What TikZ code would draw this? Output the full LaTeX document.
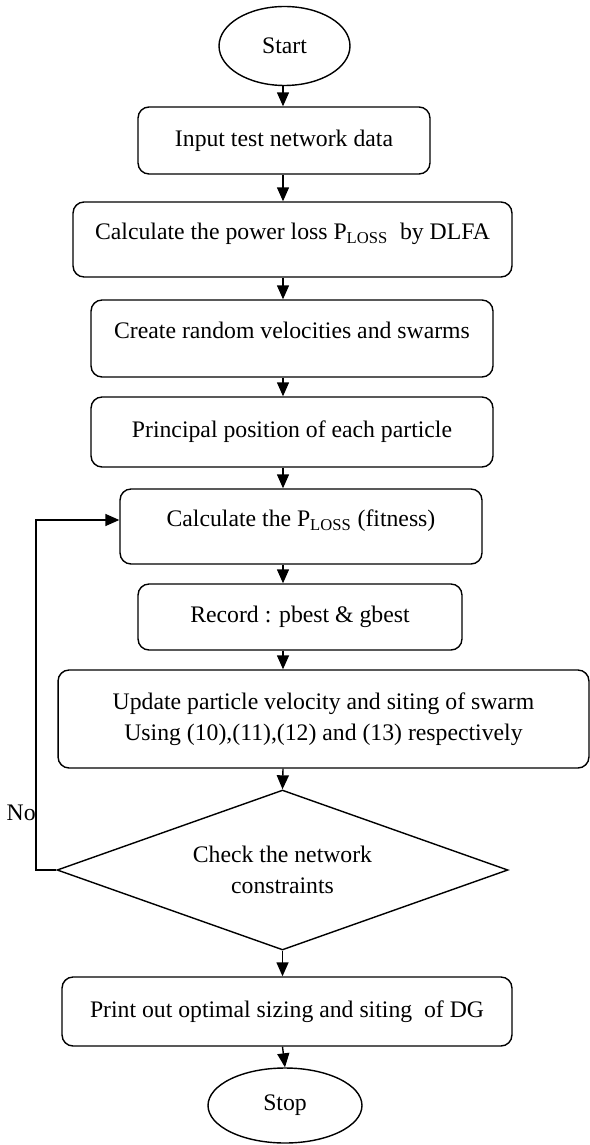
\documentclass[tikz,border=0pt]{standalone}
\usepackage{fontspec}
\setmainfont{Liberation Serif}
\usetikzlibrary{shapes.geometric,arrows.meta}

\tikzset{%
  etape/.style={draw, rounded corners=2.2mm, align=center, inner sep=2pt, line width=0.8pt},
  terminal/.style={draw, ellipse, inner sep=0pt, line width=0.8pt},
  decision/.style={draw, diamond, aspect=2.8, inner sep=0pt, align=center, line width=0.8pt},
  texto/.style={inner sep=0pt},
  line/.style={draw, line width=0.8pt, color=black, -{Triangle[length=2.8mm, width=2.4mm]}},
}

\begin{document}
\begin{tikzpicture}[x=0.02cm, y=-0.02cm, font=\fontsize{13.5}{17.5}\selectfont]
\useasboundingbox (0,0) rectangle (590,1145);
% main column
\node[terminal, minimum width=2.62cm, minimum height=1.58cm] (start) at (284.5,46) {Start};
\node[etape, minimum width=5.84cm, minimum height=1.34cm] (input) at (284,140.5) {Input test network data};
\node[etape, minimum width=8.78cm, minimum height=1.5cm, text depth=0.32cm] (ploss) at (292.5,239.5) {Calculate the power loss P\textsubscript{LOSS}\ \ by DLFA};
\node[etape, minimum width=8.04cm, minimum height=1.54cm, text depth=0.32cm] (create) at (292,338.5) {Create random velocities and swarms};
\node[etape, minimum width=8.04cm, minimum height=1.4cm] (principal) at (292,432) {Principal position of each particle};
\node[etape, minimum width=7.24cm, minimum height=1.5cm, text depth=0.32cm] (fitness) at (301,526.5) {Calculate the P\textsubscript{LOSS} (fitness)};
\node[etape, minimum width=6.48cm, minimum height=1.32cm] (record) at (300,617) {Record : pbest \& gbest};
\node[etape, minimum width=10.62cm, minimum height=1.96cm] (update) at (323.5,719) {Update particle velocity and siting of swarm\\Using (10),(11),(12) and (13) respectively};
\node[decision, minimum width=9.02cm, minimum height=3.2cm] (check) at (282.5,870) {Check the network\\constraints};
\node[etape, minimum width=9.0cm, minimum height=1.38cm] (print) at (287,1011.5) {Print out optimal sizing and siting\ \ of DG};
\node[terminal, minimum width=3.08cm, minimum height=1.5cm] (stop) at (285,1105.5) {Stop};
\node[texto, anchor=east] (no) at (36,813) {No};

% arrows down the column
\coordinate (axis) at (283,0);
\draw[line] (axis |- start.south) -- (axis |- input.north);
\draw[line] (axis |- input.south) -- (axis |- ploss.north);
\draw[line] (axis |- ploss.south) -- (axis |- create.north);
\draw[line] (axis |- create.south) -- (axis |- principal.north);
\draw[line] (axis |- principal.south) -- (axis |- fitness.north);
\draw[line] (axis |- fitness.south) -- (axis |- record.north);
\draw[line] (axis |- record.south) -- (axis |- update.north);
\draw[line] (axis |- update.south) -- (check.north);
\draw[line] (check.south) -- (check.south |- print.north);
\draw[line] (check.south |- print.south) -- (stop.north);

% feedback loop
\coordinate (loop) at (36,520);
\draw[line] (check.west) -| (loop) -- (loop -| fitness.west);
\end{tikzpicture}
\end{document}
